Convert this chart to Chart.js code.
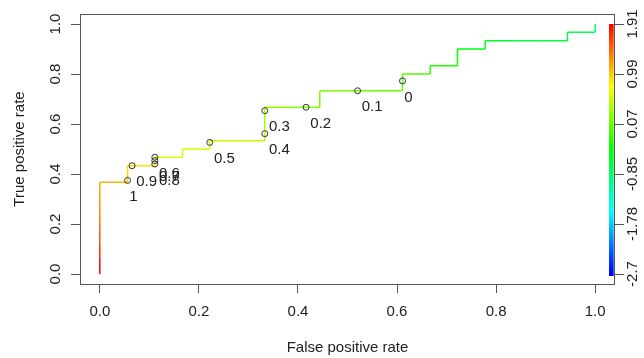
<!DOCTYPE html>
<html>
<head>
<meta charset="utf-8">
<script src="https://cdn.jsdelivr.net/npm/chart.js@4.4.1/dist/chart.umd.min.js"></script>
<style>
  html, body { margin: 0; padding: 0; background: #fff; overflow: hidden; }
  canvas { display: block; }
</style>
</head>
<body>
<canvas id="roc" width="644" height="358"></canvas>
<script>
// ROC curve vertices (false / true positive rate) and the score cutoff reached at each vertex
const fpr = [0, 0, 0, 0, 0, 0, 0, 0, 0, 0, 0, 0,
  0.056, 0.056, 0.056, 0.111, 0.111, 0.167, 0.167, 0.222, 0.222, 0.278,
  0.333, 0.333, 0.333, 0.333, 0.333, 0.389, 0.444, 0.444, 0.444, 0.5,
  0.556, 0.611, 0.611, 0.611, 0.667, 0.667, 0.722, 0.722, 0.722, 0.778,
  0.778, 0.833, 0.889, 0.944, 0.944, 1, 1];
const tpr = [0, 0.033, 0.067, 0.1, 0.133, 0.167, 0.2, 0.233, 0.267, 0.3, 0.333, 0.367,
  0.367, 0.4, 0.433, 0.433, 0.467, 0.467, 0.5, 0.5, 0.533, 0.533,
  0.533, 0.567, 0.6, 0.633, 0.667, 0.667, 0.667, 0.7, 0.733, 0.733,
  0.733, 0.733, 0.767, 0.8, 0.8, 0.833, 0.833, 0.867, 0.9, 0.9,
  0.933, 0.933, 0.933, 0.933, 0.967, 0.967, 1];
const cutoff = [Infinity, 1.912, 1.75, 1.62, 1.55, 1.48, 1.40, 1.33, 1.28, 1.22, 1.16, 1.10,
  1.02, 0.93, 0.91, 0.85, 0.60, 0.58, 0.56, 0.54, 0.49, 0.47,
  0.41, 0.398, 0.36, 0.33, 0.28, 0.22, 0.18, 0.16, 0.14, 0.12,
  0.065, 0.03, 0.01, -0.05, -0.15, -0.25, -0.32, -0.38, -0.45, -0.52,
  -0.58, -0.63, -0.68, -0.72, -0.76, -0.80, -2.698];

// cutoffs marked and labelled along the curve
const printedCutoffs = [1, 0.9, 0.8, 0.7, 0.6, 0.5, 0.4, 0.3, 0.2, 0.1, 0];

// axis ticks
const rateTicks = [0, 0.2, 0.4, 0.6, 0.8, 1];
const keyTickLabels = ['-2.7', '-1.78', '-0.85', '0.07', '0.99', '1.91'];

const FONT = '"Liberation Sans", Arial, Helvetica, sans-serif';
const INK = '#222';
const LINE = '#555';

const finiteCuts = cutoff.filter(Number.isFinite);
const cMax = Math.max(...finiteCuts);
const cMin = Math.min(...finiteCuts);
const cPad = 0.04 * (cMax - cMin);
const keyTickValues = keyTickLabels.map((_, k) => cMin + k * (cMax - cMin) / (keyTickLabels.length - 1));

// rainbow palette: highest cutoff red, lowest blue
function hueFor(c) {
  let t = (cMax - Math.min(c, cMax)) / (cMax - cMin);
  t = Math.max(0, Math.min(1, t));
  return 240 * t;
}
function cutoffColor(c) {
  return 'hsl(' + hueFor(c).toFixed(1) + ',100%,50%)';
}

// position on the curve where a given cutoff is reached (linear between vertices)
function locate(v) {
  for (let i = 0; i < cutoff.length - 1; i++) {
    const a = cutoff[i], b = cutoff[i + 1];
    if (a >= v && v >= b) {
      const f = a === Infinity ? 1 : (a - v) / (a - b);
      return { x: fpr[i] + f * (fpr[i + 1] - fpr[i]), y: tpr[i] + f * (tpr[i + 1] - tpr[i]) };
    }
  }
  return { x: fpr[fpr.length - 1], y: tpr[tpr.length - 1] };
}

const curvePoints = fpr.map((x, i) => ({ x: x, y: tpr[i] }));
const cutoffPoints = printedCutoffs.map(locate);

const colorKey = {
  id: 'colorKey',
  beforeDatasetsDraw(chart) {
    const ctx = chart.ctx;
    const key = chart.scales.key;
    const top = key.getPixelForValue(cMax);
    const bottom = key.getPixelForValue(cMin);
    const right = chart.chartArea.right - 1.3;
    const left = right - 4.7;
    const g = ctx.createLinearGradient(0, top, 0, bottom);
    for (let k = 0; k <= 24; k++) {
      g.addColorStop(k / 24, 'hsl(' + (240 * k / 24) + ',100%,50%)');
    }
    ctx.save();
    ctx.fillStyle = g;
    ctx.fillRect(left, top, right - left, bottom - top + 2);
    ctx.restore();
  }
};

const cutoffText = {
  id: 'cutoffText',
  afterDatasetsDraw(chart) {
    const ctx = chart.ctx;
    const meta = chart.getDatasetMeta(1);
    ctx.save();
    ctx.font = '15px ' + FONT;
    ctx.fillStyle = INK;
    ctx.textAlign = 'left';
    ctx.textBaseline = 'middle';
    meta.data.forEach((pt, i) => {
      const s = String(printedCutoffs[i]);
      const w = ctx.measureText(s).width;
      ctx.fillText(s, pt.x + 0.2 * w, pt.y + 16.5);
    });
    ctx.restore();
  }
};

const frame = {
  id: 'frame',
  afterDraw(chart) {
    const a = chart.chartArea;
    const ctx = chart.ctx;
    ctx.save();
    ctx.strokeStyle = LINE;
    ctx.lineWidth = 1;
    ctx.strokeRect(Math.round(a.left) + 0.5, Math.round(a.top) + 0.5,
      Math.round(a.right - a.left) - 1, Math.round(a.bottom - a.top));
    ctx.restore();
  }
};

Chart.defaults.font.family = FONT;
Chart.defaults.font.size = 15;
Chart.defaults.color = INK;

const tickGrid = { display: true, drawOnChartArea: false, drawTicks: true, tickLength: 9, color: LINE, lineWidth: 1 };

new Chart(document.getElementById('roc'), {
  type: 'line',
  data: {
    datasets: [
      {
        label: 'ROC',
        data: curvePoints,
        borderWidth: 1.5,
        pointRadius: 0,
        tension: 0,
        fill: false,
        order: 1,
        borderColor: cutoffColor(cMax),
        segment: { borderColor: c => cutoffColor(cutoff[c.p0DataIndex]) }
      },
      {
        label: 'cutoffs',
        data: cutoffPoints,
        showLine: false,
        pointRadius: 3,
        pointHoverRadius: 3,
        pointBorderWidth: 1,
        pointBorderColor: '#333',
        pointBackgroundColor: 'rgba(0,0,0,0)',
        order: 0
      }
    ]
  },
  options: {
    responsive: false,
    animation: false,
    devicePixelRatio: 1,
    events: [],
    layout: { padding: { top: 14, left: 0, right: 0, bottom: 0 } },
    plugins: { legend: { display: false }, tooltip: { enabled: false } },
    scales: {
      x: {
        type: 'linear',
        position: 'bottom',
        min: -0.04,
        max: 1.04,
        afterFit(s) { s.height = 74; },
        afterBuildTicks(s) { s.ticks = rateTicks.map(v => ({ value: v })); },
        grid: tickGrid,
        border: { display: false },
        ticks: { autoSkip: false, maxRotation: 0, padding: 10, color: INK, callback: v => Number(v).toFixed(1) },
        title: { display: true, text: 'False positive rate', color: INK, font: { size: 15 }, padding: { top: 0, bottom: 1 } }
      },
      y: {
        type: 'linear',
        position: 'left',
        min: -0.04,
        max: 1.04,
        afterFit(s) { s.width = 80; },
        afterBuildTicks(s) { s.ticks = rateTicks.map(v => ({ value: v })); },
        grid: tickGrid,
        border: { display: false },
        ticks: { autoSkip: false, minRotation: 90, maxRotation: 90, crossAlign: 'center', padding: 4.4, color: INK, callback: v => Number(v).toFixed(1) },
        title: { display: true, text: 'True positive rate', color: INK, font: { size: 15 }, padding: { top: 10.5, bottom: 0 } }
      },
      key: {
        type: 'linear',
        position: 'right',
        min: cMin - cPad,
        max: cMax + cPad,
        afterFit(s) { s.width = 29; },
        afterBuildTicks(s) { s.ticks = keyTickValues.map(v => ({ value: v })); },
        grid: tickGrid,
        border: { display: false },
        ticks: { autoSkip: false, minRotation: 90, maxRotation: 90, crossAlign: 'center', padding: -8, color: INK, callback: (v, i) => keyTickLabels[i] }
      }
    }
  },
  plugins: [colorKey, cutoffText, frame]
});
</script>
</body>
</html>
